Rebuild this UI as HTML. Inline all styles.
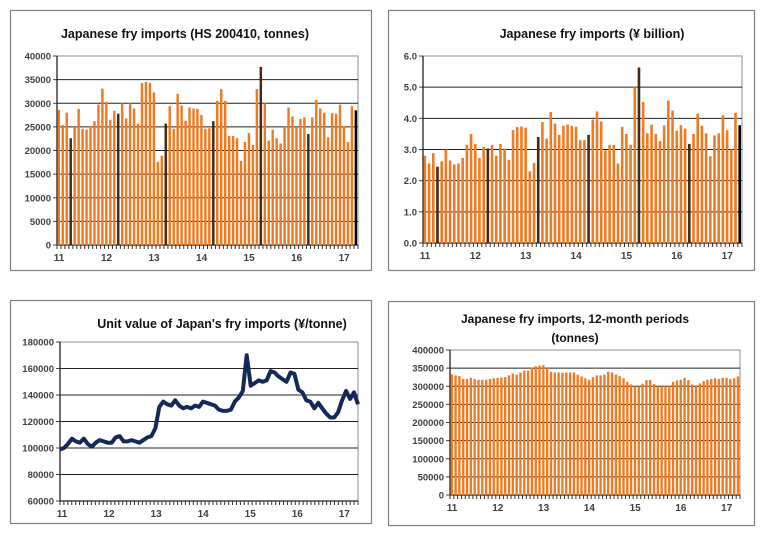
<!DOCTYPE html>
<html><head><meta charset="utf-8"><style>
body{margin:0;background:#fff;width:768px;height:539px;overflow:hidden}
svg{position:absolute;left:0;top:0}
text{font-family:"Liberation Sans",sans-serif}
</style></head><body>
<svg id="s" width="768" height="539" xmlns="http://www.w3.org/2000/svg"></svg>
<script>
const S=document.getElementById('s');let h='';
const OR='#f07a22',DK='#4a2810',BK='#000';
function panel(x1,y1,x2,y2){h+=`<rect x="${x1}.5" y="${y1}.5" width="${x2-x1}" height="${y2-y1}" fill="#fff" stroke="#7f7f7f" stroke-width="1.2"/>`;}
function axes(px1,px2,py1,py2,ticks,fmt,fs){
 h+=`<rect x="${px1}" y="${py1}" width="${px2-px1}" height="${py2-py1}" fill="none" stroke="#8c8c8c"/>`;
 ticks.forEach((t,i)=>{const y=py2-(py2-py1)*i/(ticks.length-1);
  if(i>0&&i<ticks.length-1)h+=`<line x1="${px1}" x2="${px2}" y1="${y}" y2="${y}" stroke="#222" stroke-width="1"/>`;
  h+=`<line x1="${px1-4}" x2="${px1}" y1="${y}" y2="${y}" stroke="#444"/>`;
  h+=`<text x="${px1-6}" y="${y+3.5}" text-anchor="end" font-size="${fs||9.5}" font-weight="bold" fill="#404040">${t}</text>`;});
 h+=`<line x1="${px1}" x2="${px1}" y1="${py1}" y2="${py2}" stroke="#222" stroke-width="1.3"/>`;
 h+=`<line x1="${px1}" x2="${px2}" y1="${py2}" y2="${py2}" stroke="#222" stroke-width="1.3"/>`;
 const w=(px2-px1)/76;
 for(let i=0;i<=76;i++){const x=px1+i*w;h+=`<line x1="${x}" x2="${x}" y1="${py2}" y2="${py2+4}" stroke="#333"/>`;}
 for(let k=0;k<7;k++){const x=px1+k*12*w+2;h+=`<text x="${x}" y="${py2+16}" text-anchor="middle" font-size="10" font-weight="bold" fill="#404040">${11+k}</text>`;}
}
function bars(px1,px2,py1,py2,max,d,dark){const w=(px2-px1)/76;
 d.forEach((v,i)=>{let c=OR;if(dark){if(i==75)c=BK;else if(i%12==3)c=DK;}
  const hh=(py2-py1)*v/max;h+=`<rect x="${(px1+i*w+0.6).toFixed(2)}" y="${(py2-hh).toFixed(2)}" width="${(w*0.62).toFixed(2)}" height="${hh.toFixed(2)}" fill="${c}"/>`;});}
function title(x,y,t,fs){h+=`<text x="${x}" y="${y}" text-anchor="middle" font-size="${fs||12.5}" font-weight="bold" fill="#111">${t}</text>`;}
const d1=[28.6,25.4,28.0,22.6,25.0,28.8,24.6,24.4,25.2,26.2,29.7,33.1,30.3,26.5,28.4,27.8,30.0,26.8,30.0,28.9,25.7,34.3,34.5,34.3,32.3,17.6,18.9,25.7,29.4,24.6,32.0,29.5,26.3,29.1,28.9,28.8,27.5,24.6,24.7,26.2,30.5,33.0,30.5,23.1,23.1,22.6,17.8,21.8,23.7,21.2,33.0,37.7,30.0,22.1,24.4,22.6,21.5,25.0,29.1,27.2,25.0,26.7,27.0,23.5,27.0,30.7,28.9,28.0,22.8,27.9,27.8,29.7,25.2,21.8,29.4,28.5];
panel(10,10,371,270);
axes(57,358,56,245,['0','5000','10000','15000','20000','25000','30000','35000','40000']);
bars(57,358,56,245,40,d1,true);
title(185,38,'Japanese fry imports (HS 200410, tonnes)');
const d2=[2.8,2.55,2.88,2.45,2.62,3.0,2.65,2.52,2.55,2.73,3.15,3.5,3.18,2.73,3.08,3.03,3.15,2.8,3.18,3.03,2.67,3.62,3.72,3.74,3.7,2.3,2.57,3.4,3.88,3.35,4.2,3.83,3.47,3.76,3.8,3.76,3.73,3.3,3.3,3.47,3.96,4.22,3.9,2.98,3.15,3.15,2.55,3.73,3.5,3.15,5.0,5.63,4.52,3.52,3.8,3.5,3.27,3.77,4.57,4.25,3.6,3.78,3.67,3.18,3.5,4.15,3.76,3.52,2.78,3.45,3.52,4.1,3.62,3.0,4.18,3.78];
panel(388,10,754,270);
axes(423,742,56,243,['0.0','1.0','2.0','3.0','4.0','5.0','6.0']);
bars(423,742,56,243,6,d2,true);
title(592,38,'Japanese fry imports (¥ billion)');
const d3=[99,100,103,107,105,104,107,103,101,104,106,105,104,104,108,109,105,105,106,105,104,106,108,109,115,131,135,133,132,136,132,130,131,130,132,131,135,134,133,132,129,128,128,129,135,138,143,170,147,149,151,150,151,158,157,154,152,150,157,156,144,142,136,135,130,134,130,126,123,123,127,136,143,137,142,133];
panel(10,300,371,523);
axes(60,358,342,501,['60000','80000','100000','120000','140000','160000','180000']);
{let pts=d3.map((v,i)=>`${(60+i*298/75).toFixed(1)},${(501-(v-60)/120*159).toFixed(1)}`).join(' ');
h+=`<polyline points="${pts}" fill="none" stroke="#14285a" stroke-width="4" stroke-linejoin="round"/>`;}
title(222,328,"Unit value of Japan's fry imports (¥/tonne)");
const d4=[333,330,328,320,320,323,320,318,318,318,320,322,323,324,325,330,335,332,338,343,343,352,355,357,358,350,340,338,338,337,338,338,338,332,327,322,318,325,330,330,332,340,338,332,328,322,312,305,300,300,307,317,317,306,300,300,300,300,312,316,318,323,317,305,300,308,314,318,320,322,320,323,323,320,322,327];
panel(388,301,754,525);
axes(450,740,350,495,['0','50000','100000','150000','200000','250000','300000','350000','400000']);
bars(450,740,350,495,400,d4,false);
title(575,323,'Japanese fry imports, 12-month periods',12);
title(575,342,'(tonnes)',12);
S.innerHTML=h;
</script>
</body></html>
